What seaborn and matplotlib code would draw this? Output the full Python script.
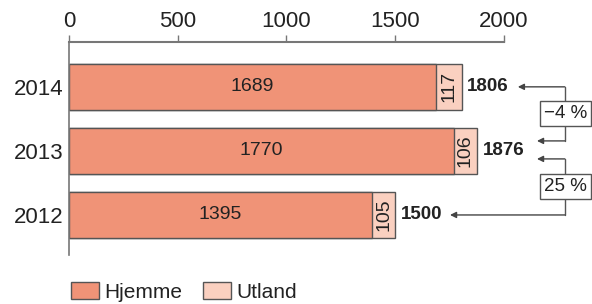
#!/usr/bin/env python3
# stacked horizontal bars: Hjemme / Utland per year

import matplotlib
matplotlib.use("Agg")
import numpy as np
import pandas as pd
import matplotlib.pyplot as plt
import seaborn as sns
from matplotlib.patches import Patch

years = ["2014", "2013", "2012"]
hjemme = [1689, 1770, 1395]
utland = [117, 106, 105]
changes = ["\u22124 %", "25 %"]

totals = [h + u for h, u in zip(hjemme, utland)]
df = pd.DataFrame({"year": years, "hjemme": hjemme, "total": totals})

sns.set_theme(style="white")
plt.rcParams["font.family"] = ["Liberation Sans", "DejaVu Sans"]

c_home = "#F09377"
c_abroad = "#FAD0C0"
edge = "#555555"
text_c = "#222222"

fig = plt.figure(figsize=(5.92, 3.04), dpi=100)
ax = fig.add_axes([69 / 592, 1 - 255 / 304, 1 - 69 / 592, 213 / 304])

sns.barplot(data=df, x="total", y="year", orient="h", color=c_abroad,
            edgecolor=edge, linewidth=1.0, width=0.71, saturation=1, ax=ax)
sns.barplot(data=df, x="hjemme", y="year", orient="h", color=c_home,
            edgecolor=edge, linewidth=1.0, width=0.71, saturation=1, ax=ax)

ax.set_xlim(0, 2405)
ax.set_ylim(2.625, -0.70)
ax.set_xlabel("")
ax.set_ylabel("")

# axis on top
ax.xaxis.tick_top()
ax.set_xticks([0, 500, 1000, 1500, 2000])
ax.tick_params(axis="x", length=5, width=1, color="#777777", pad=2.5,
               labelsize=16, labelcolor=text_c, direction="out")
ax.tick_params(axis="y", length=0, pad=4, labelsize=16, labelcolor=text_c)
for s in ["right", "bottom"]:
    ax.spines[s].set_visible(False)
ax.spines["top"].set_bounds(0, 2000)
ax.spines["top"].set_color("#777777")
ax.spines["top"].set_linewidth(1.5)
ax.spines["left"].set_color("#777777")
ax.spines["left"].set_linewidth(1.2)

for i in range(len(years)):
    ax.text(hjemme[i] / 2, i, str(hjemme[i]), ha="center", va="center",
            fontsize=14, color=text_c)
    ax.text(hjemme[i] + utland[i] / 2, i, str(utland[i]), ha="center",
            va="center", rotation=90, fontsize=14, color=text_c)
    ax.text(totals[i] + 25, i, str(totals[i]), ha="left", va="center",
            fontsize=13.5, fontweight="bold", color=text_c)

# change arrows
xv = 2280
line_kw = dict(color="#555555", lw=1.0, clip_on=False)
arrow_kw = dict(arrowstyle="-|>", color="#444444", lw=1.0,
                mutation_scale=9, shrinkA=0, shrinkB=0)
pairs = [(0, 0.844), (1.125, 2.0)]
ends = [(totals[0] + 258, 2152), (2152, totals[2] + 252)]
box_y = [0.414, 1.555]
for (ya, yb), (xa, xb), lab, by in zip(pairs, ends, changes, box_y):
    ax.plot([xv, xv], [ya, yb], **line_kw)
    ax.annotate("", xy=(xa, ya), xytext=(xv, ya), arrowprops=arrow_kw,
                annotation_clip=False)
    ax.annotate("", xy=(xb, yb), xytext=(xv, yb), arrowprops=arrow_kw,
                annotation_clip=False)
    ax.text(xv + 4, by, lab, ha="center", va="center", fontsize=13.5,
            color=text_c,
            bbox=dict(boxstyle="square,pad=0.2", fc="white", ec="#555555", lw=1.0))

handles = [Patch(facecolor=c_home, edgecolor=edge, label="Hjemme"),
           Patch(facecolor=c_abroad, edgecolor=edge, label="Utland")]
fig.legend(handles=handles, loc="lower left", bbox_to_anchor=(69 / 592, 0.0),
           ncol=2, frameon=False, fontsize=15, handlelength=1.35,
           handleheight=0.9, handletextpad=0.25, columnspacing=1.0,
           borderpad=0.1, borderaxespad=0, labelcolor=text_c)

fig.savefig("out.png", dpi=100)
